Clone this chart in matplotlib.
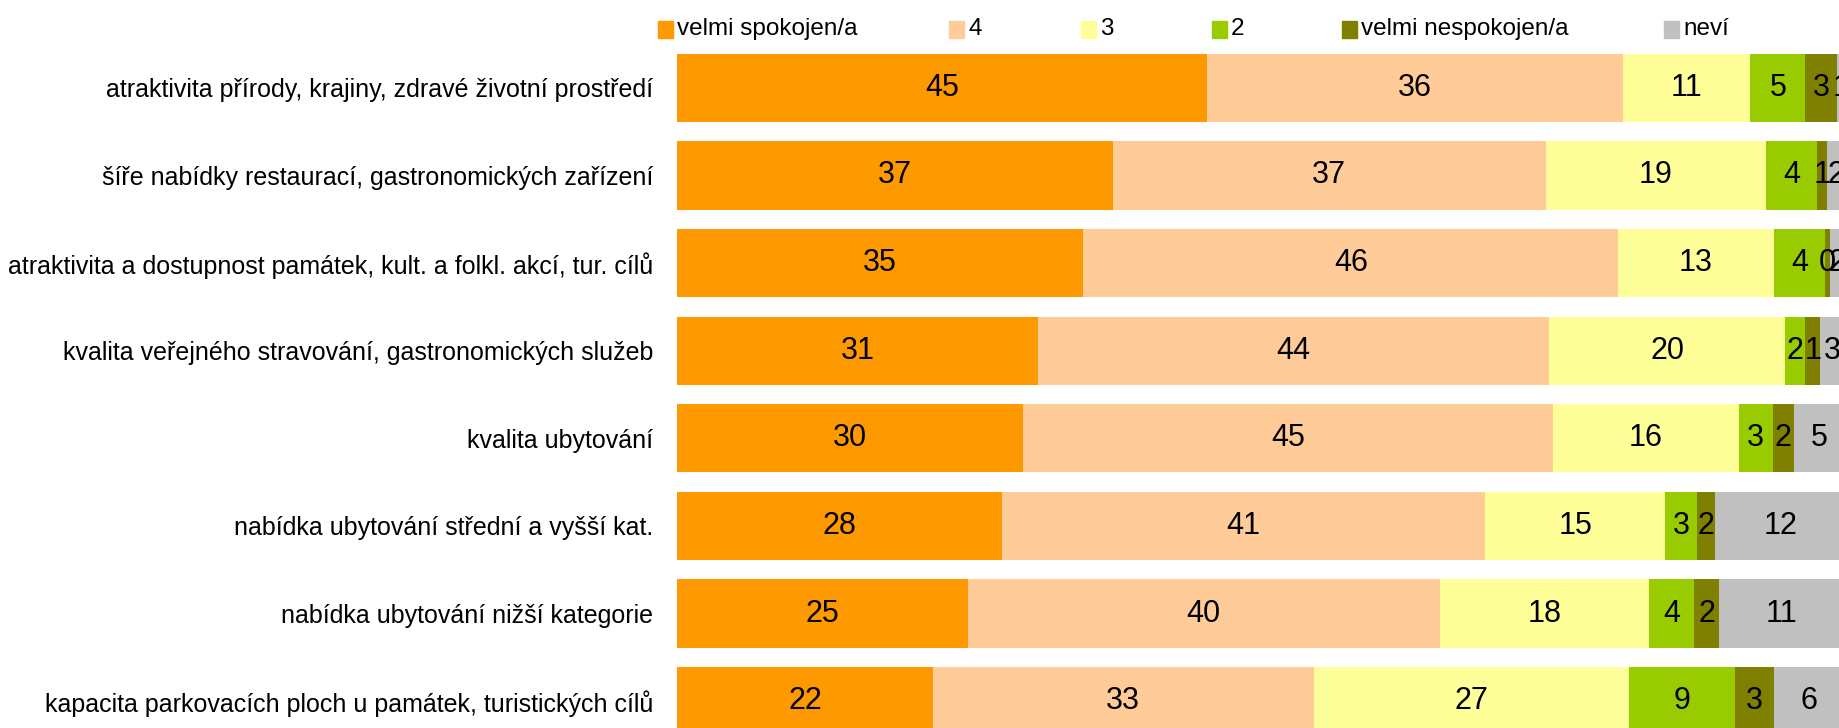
import matplotlib
matplotlib.use('Agg')
import matplotlib.pyplot as plt
from matplotlib.patches import Rectangle

plt.rcParams['font.family'] = ['Liberation Sans Narrow', 'Liberation Sans', 'DejaVu Sans']

categories = [
    'atraktivita přírody, krajiny, zdravé životní prostředí',
    'šíře nabídky restaurací, gastronomických zařízení',
    'atraktivita a dostupnost památek, kult. a folkl. akcí, tur. cílů',
    'kvalita veřejného stravování, gastronomických služeb',
    'kvalita ubytování',
    'nabídka ubytování střední a vyšší kat.',
    'nabídka ubytování nižší kategorie',
    'kapacita parkovacích ploch u památek, turistických cílů',
]
series_names = ['velmi spokojen/a', '4', '3', '2', 'velmi nespokojen/a', 'neví']
colors = ['#FF9900', '#FFCC99', '#FFFF99', '#99CC00', '#808000', '#C0C0C0']

# percentages (bar widths) per series
v5 = [45.4, 37.3, 34.8, 30.9, 29.6, 27.8, 24.9, 21.9]
v4 = [35.6, 37.1, 45.8, 43.8, 45.4, 41.4, 40.4, 32.6]
v3 = [10.9, 18.8, 13.3, 20.2, 15.9, 15.4, 17.9, 27.0]
v2 = [4.7, 4.4, 4.4, 1.7, 2.9, 2.7, 3.9, 9.1]
v1 = [2.7, 0.9, 0.4, 1.3, 1.8, 1.6, 2.1, 3.3]
vnevi = [0.7, 1.5, 1.6, 2.6, 4.6, 11.6, 10.8, 6.1]
# labels printed in the bars
l5 = [45, 37, 35, 31, 30, 28, 25, 22]
l4 = [36, 37, 46, 44, 45, 41, 40, 33]
l3 = [11, 19, 13, 20, 16, 15, 18, 27]
l2 = [5, 4, 4, 2, 3, 3, 4, 9]
l1 = [3, 1, 0, 1, 2, 2, 2, 3]
lnevi = [1, 2, 2, 3, 5, 12, 11, 6]

values = [v5, v4, v3, v2, v1, vnevi]
labels = [l5, l4, l3, l2, l1, lnevi]

W, H = 1839, 728
fig = plt.figure(figsize=(W / 100, H / 100), dpi=100)
# axes deliberately runs a bit past the right and bottom edges (cropped chart)
ax = fig.add_axes([677 / W, (728 - 745) / H, 1168 / W, 701 / H])

y = list(range(len(categories)))
left = [0] * len(categories)
for vals, labs, col in zip(values, labels, colors):
    bars = ax.barh(y, vals, left=left, height=0.78, color=col, edgecolor='none')
    ax.bar_label(bars, labels=[str(v) for v in labs], label_type='center',
                 fontsize=22, color='black')
    left = [a + b for a, b in zip(left, vals)]

ax.set_xlim(0, 100)
ax.set_ylim(len(categories) - 0.5, -0.5)
ax.set_yticks(y)
ax.set_yticklabels(categories, fontsize=18)
ax.tick_params(axis='y', length=0, pad=17)
ax.set_xticks([])
for s in ax.spines.values():
    s.set_visible(False)

# legend row at the top
leg_x = [658, 949, 1081, 1212, 1342, 1664]
for x0, name, col in zip(leg_x, series_names, colors):
    fig.patches.append(Rectangle((x0 / W, 1 - 38 / H), 15 / W, 17 / H,
                                 transform=fig.transFigure, color=col))
    fig.text((x0 + 19) / W, 1 - 29 / H, name, fontsize=17.5, va='center', ha='left')

fig.savefig('out.png', dpi=100)
